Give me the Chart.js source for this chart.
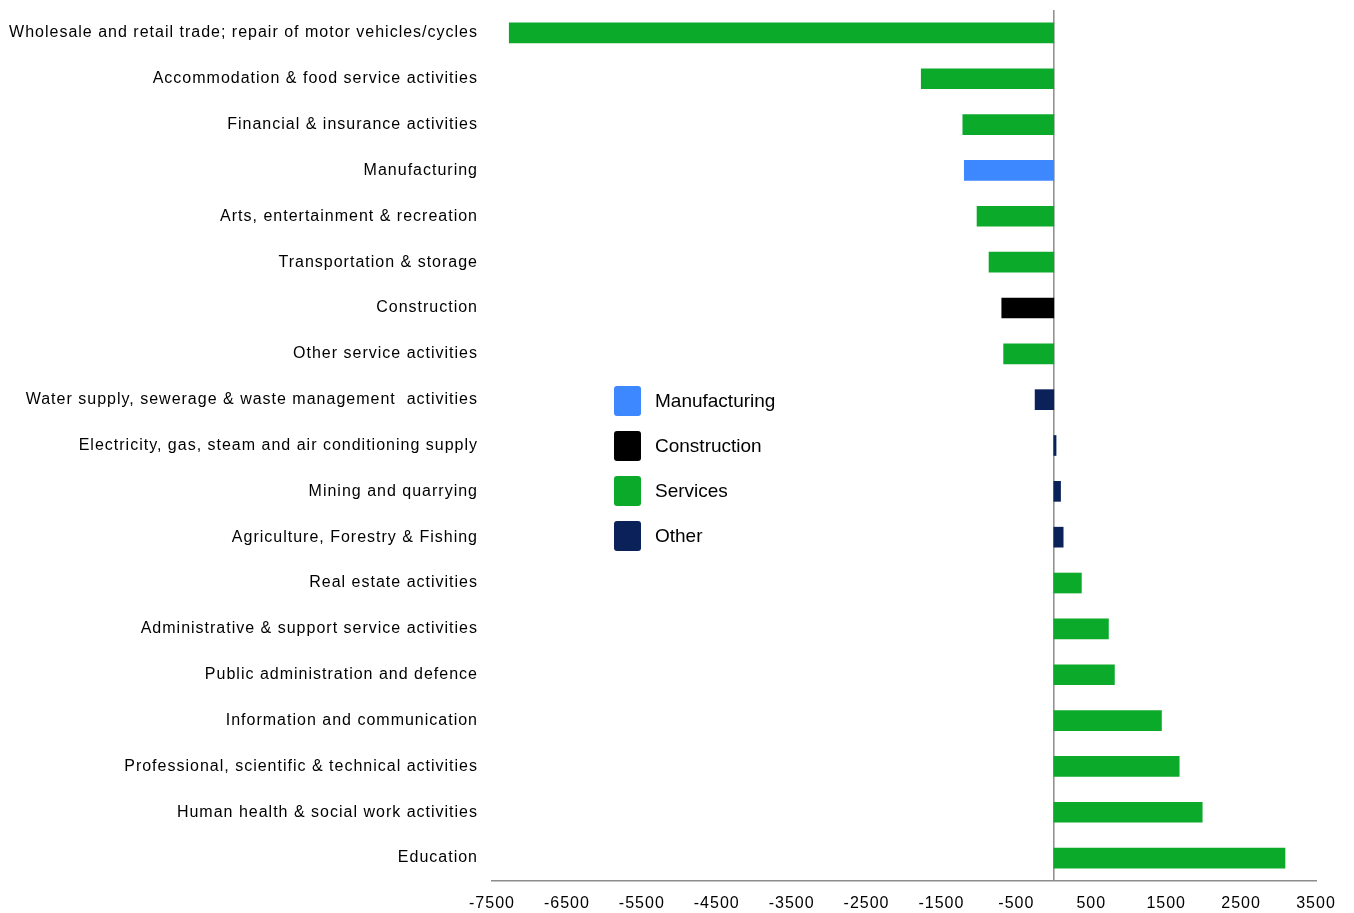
<!DOCTYPE html>
<html lang="en">
<head>
<meta charset="UTF-8">
<title>Employment change by industry</title>
<style>
* {
    margin: 0;
    padding: 0;
    box-sizing: border-box;
}
body {
    background: #fff;
    font-family: "Liberation Sans", Arial, sans-serif;
}
.wrap {
    position: relative;
    width: 1354px;
    height: 913px;
}
/* legend sits inside the plot, left of the bars */
.legend {
    position: absolute;
    left: 614px;
    top: 386px;
    list-style: none;
}
.legend li {
    display: flex;
    align-items: center;
    height: 30px;
    margin-bottom: 15px;
    font-size: 19px;
    color: #000;
}
.legend .swatch {
    width: 27px;
    height: 30px;
    border-radius: 3px;
    margin-right: 14px;
}
</style>
</head>
<body>
<div class="wrap">
    <canvas id="chart" width="1354" height="913"></canvas>
    <ul class="legend" id="legend"></ul>
</div>
<script src="https://cdn.jsdelivr.net/npm/chart.js@4/dist/chart.umd.min.js"></script>
<script>
var categories = [
    'Wholesale and retail trade; repair of motor vehicles/cycles',
    'Accommodation & food service activities',
    'Financial & insurance activities',
    'Manufacturing',
    'Arts, entertainment & recreation',
    'Transportation & storage',
    'Construction',
    'Other service activities',
    'Water supply, sewerage & waste management  activities',
    'Electricity, gas, steam and air conditioning supply',
    'Mining and quarrying',
    'Agriculture, Forestry & Fishing',
    'Real estate activities',
    'Administrative & support service activities',
    'Public administration and defence',
    'Information and communication',
    'Professional, scientific & technical activities',
    'Human health & social work activities',
    'Education'
];
var values = [-7270, -1770, -1215, -1195, -1025, -865, -695, -670, -250, 30, 90, 125, 368, 729, 809, 1437, 1674, 1981, 3086];
var sectors = ['Services', 'Services', 'Services', 'Manufacturing', 'Services', 'Services', 'Construction', 'Services', 'Other', 'Other', 'Other', 'Other',
    'Services', 'Services', 'Services', 'Services', 'Services', 'Services', 'Services'];
var groups = ['Manufacturing', 'Construction', 'Services', 'Other'];
var groupColors = ['#3d87ff', '#000000', '#0caa2a', '#0a2259'];
var xTicks = [-7500, -6500, -5500, -4500, -3500, -2500, -1500, -500, 500, 1500, 2500, 3500];

// one dataset per group, null where the row belongs to another group
var datasets = groups.map(function(g, i) {
    return {
        label: g,
        data: values.map(function(v, j) { return sectors[j] === g ? v : null; }),
        backgroundColor: groupColors[i],
        barThickness: 20,
        borderWidth: 0
    };
});

var labelFont = { family: '"Liberation Sans", Arial, sans-serif', size: 16 };

new Chart(document.getElementById('chart'), {
    type: 'bar',
    data: { labels: categories, datasets: datasets },
    options: {
        indexAxis: 'y',
        responsive: false,
        animation: false,
        layout: { padding: { top: 10, right: 38, bottom: 0, left: 0 } },
        plugins: {
            legend: { display: false },
            tooltip: { enabled: false }
        },
        scales: {
            y: {
                stacked: true,
                grid: { display: false, drawTicks: false },
                border: { display: false },
                ticks: { color: '#000', font: labelFont, padding: 14 },
                afterFit: function(scale) {
                    scale.width = 492;
                    // tick padding would otherwise push the plot down
                    scale.paddingTop = 0;
                    scale.paddingBottom = 0;
                }
            },
            x: {
                min: -7500,
                max: 3500,
                afterBuildTicks: function(scale) {
                    scale.ticks = xTicks.map(function(v) { return { value: v }; });
                },
                grid: { display: false, drawTicks: false },
                border: { display: true, color: '#8c8c8c', width: 1.5 },
                ticks: {
                    color: '#000', font: labelFont, padding: 13, maxRotation: 0, autoSkip: false,
                    callback: function(v) { return String(v); }
                },
                afterFit: function(scale) { scale.height = 32; }
            }
        }
    },
    plugins: [{
        // wider letter spacing like the original export
        id: 'spacing',
        beforeDraw: function(chart) { chart.ctx.letterSpacing = '1px'; }
    }, {
        // vertical line at zero, 0 is not one of the ticks
        id: 'zeroLine',
        beforeDatasetsDraw: function(chart) {
            var x = chart.scales.x.getPixelForValue(0);
            var ctx = chart.ctx;
            ctx.save();
            ctx.strokeStyle = '#8c8c8c';
            ctx.lineWidth = 1.5;
            ctx.beginPath();
            ctx.moveTo(x, chart.chartArea.top);
            ctx.lineTo(x, chart.chartArea.bottom);
            ctx.stroke();
            ctx.restore();
        }
    }]
});

var legend = document.getElementById('legend');
groups.forEach(function(g, i) {
    var li = document.createElement('li');
    li.innerHTML = '<span class="swatch" style="background:' + groupColors[i] + '"></span>' + g;
    legend.appendChild(li);
});
</script>
</body>
</html>
